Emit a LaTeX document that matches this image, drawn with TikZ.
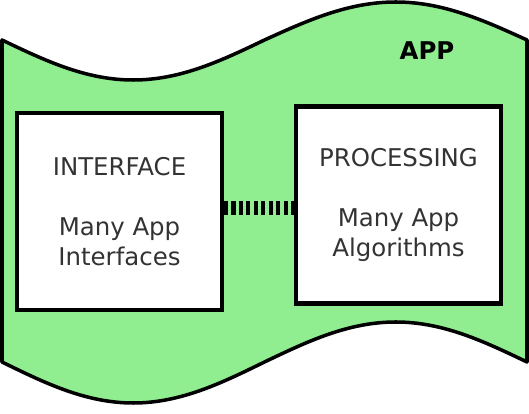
\documentclass[tikz,border=0pt]{standalone}
\usepackage{fontspec}
\setmainfont{DejaVu Sans}
\usetikzlibrary{positioning}
\definecolor{appgreen}{HTML}{90EE90}

\begin{document}
\begin{tikzpicture}[thick,
  block/.style={draw=black, line width=2.3pt, fill=white, minimum width=4.1cm, minimum height=3.94cm, inner sep=0pt, align=center, text=black!80, font=\fontsize{13.9}{17}\selectfont},
  link_style/.style={draw=black, line width=8.5pt, dash pattern=on 2.3pt off 1.95pt}]
  \useasboundingbox (0,0) rectangle (10.58,8.28);
  % the wavy app shape
  \draw[fill=appgreen, line width=2pt, line join=round] (0.04,7.48) sin (2.665,6.68) cos (5.29,7.48) sin (7.915,8.24) cos (10.54,7.48) -- (10.54,1.04) sin (7.915,1.84) cos (5.29,1.04) sin (2.665,0.22) cos (0.04,1.04) -- cycle;
  \node[font=\bfseries\fontsize{13.9}{17}\selectfont] (APP) at (8.54,7.26) {APP};
  \node[block] (IF) at (2.39,4.05) {INTERFACE\\[17pt]Many App\\Interfaces};
  \node[block] (PR) at (7.97,4.18) {PROCESSING\\[17pt]Many App\\Algorithms};
  \draw[link_style] ([yshift=0.07cm]IF.east) -- ([yshift=0.07cm]PR.west |- IF.east);
\end{tikzpicture}
\end{document}
